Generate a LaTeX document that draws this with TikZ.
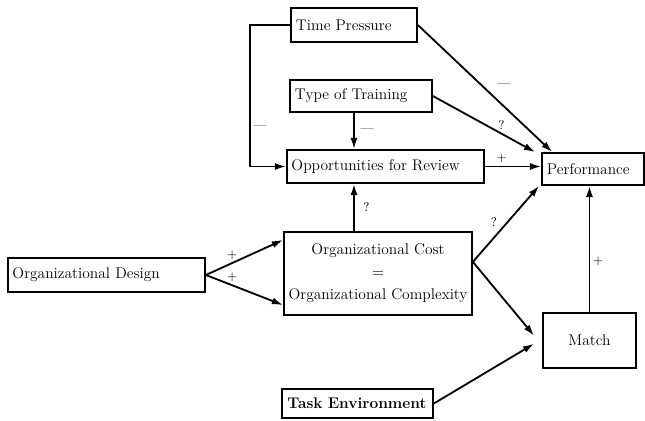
\documentclass[tikz,border=0pt]{standalone}
\usepackage{tikz}
\usetikzlibrary{positioning,arrows.meta,calc}

\begin{document}
\begin{tikzpicture}[
    x=0.025cm, y=-0.025cm,
    block/.style={rectangle, draw, line width=1.2pt, inner sep=3pt, font=\fontsize{11}{13}\selectfont},
    arrow/.style={-{Latex[length=8pt,width=5pt]}, line width=1.3pt},
    sign/.style={font=\small, inner sep=2pt}
]
\useasboundingbox (0,0) rectangle (645,421);

% --- Boxes ---
\node[block, minimum width=3.15cm, minimum height=0.85cm, text width=2.9cm, align=left] (press) at (354,25) {Time Pressure};
\node[block, minimum width=3.55cm, minimum height=0.8cm, text width=3.3cm, align=left] (train) at (361,96) {Type of Training};
\node[block, minimum width=4.925cm, minimum height=0.825cm, text width=4.7cm, align=left] (review) at (385.5,166.5) {Opportunities for Review};
\node[block, minimum width=2.55cm, minimum height=0.8cm, text width=2.3cm, align=left] (perf) at (593,169) {Performance};
\node[block, minimum width=4.925cm, minimum height=0.85cm, text width=4.7cm, align=left] (design) at (106.5,275) {Organizational Design};
\node[block, minimum width=4.7cm, minimum height=2.075cm, align=center] (cost) at (378,273.5) {Organizational Cost\\[3pt] $=$\\[3pt] Organizational Complexity};
\node[block, minimum width=2.325cm, minimum height=1.375cm] (match) at (589.5,340.5) {Match};
\node[block, minimum width=3.775cm, minimum height=0.725cm, text width=3.5cm, align=left, font=\fontsize{11}{13}\selectfont\bfseries] (task) at (357.5,403.5) {Task Environment};
\coordinate (vline) at (354,0);

% --- Connectors ---
\draw[arrow] (press.west) -- ++(-1cm,0) |- (review.west);
\node[sign] (presssign) at (260,128) {---};
\draw[arrow] (press.east) -- ([xshift=0.28cm]perf.north west) node[sign, pos=0.48, right=8pt] {---};
\draw[arrow] (train.east) -- ([xshift=-0.15cm]perf.north west) node[sign, pos=0.67, above] {?};
\draw[arrow] (vline |- train.south) -- (vline |- review.north) node[sign, midway, right=2pt] {---};
\draw[arrow] (review.east) -- (review.east -| perf.west) node[sign, pos=0.3, above] {+};
\draw[arrow] (vline |- cost.north) -- (vline |- review.south) node[sign, midway, right=4pt] {?};
\draw[arrow] ([yshift=0.29cm]cost.east) -- ([xshift=-0.05cm]perf.south west) node[sign, pos=0.42, above left] {?};
\draw[arrow] ([yshift=0.29cm]cost.east) -- ([xshift=-0.2cm,yshift=0.12cm]match.west);
\draw[arrow] (task.east) -- ([xshift=-0.2cm,yshift=-0.08cm]match.west);
\draw[arrow] (match.north) -- (match.north |- perf.south) node[sign, pos=0.4, right] {+};
\draw[arrow] (design.east) -- ([yshift=0.84cm]cost.west) node[sign, pos=0.34, above] {+};
\draw[arrow] (design.east) -- ([yshift=-0.79cm]cost.west) node[sign, pos=0.34, above] {+};

\end{tikzpicture}
\end{document}
